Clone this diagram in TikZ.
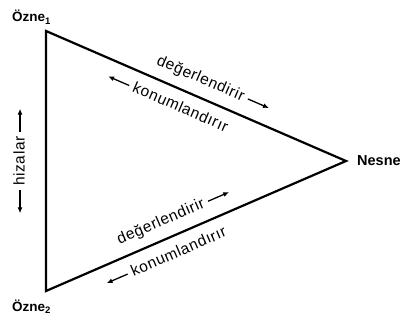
\documentclass[tikz,border=0pt]{standalone}
\usepackage{fontspec}
\setmainfont{Liberation Sans}
\newfontfamily\edgefont[LetterSpace=4]{Liberation Sans}
\usetikzlibrary{arrows.meta}
\tikzset{arw/.style={-{Latex[length=6pt,width=5pt]},line width=1.3pt}}
\newcommand{\rarr}{\tikz[baseline=-0.55ex]\draw[arw] (0pt,0pt) -- (23pt,0pt);}
\newcommand{\larr}{\tikz[baseline=-0.55ex]\draw[arw] (23pt,0pt) -- (0pt,0pt);}

\begin{document}
\begin{tikzpicture}[x=1pt,y=-1pt,
  side/.style={line width=2.2pt,line join=miter},
  who/.style={font=\fontsize{13.5}{15}\selectfont\bfseries,inner sep=0pt,anchor=base west},
  lbl/.style={font=\fontsize{15.5}{18}\selectfont\edgefont,inner sep=0pt,sloped}]
\useasboundingbox (0,0) rectangle (406,320);
\coordinate (c1) at (46,31);
\coordinate (c2) at (46,291);
\coordinate (cn) at (346,161);
\node[who] (ozne1) at (12,22) {Özne$_{\mathbf 1}$};
\node[who] (ozne2) at (12,311) {Özne$_{\mathbf 2}$};
\node[who,font=\fontsize{14.5}{16}\selectfont\bfseries] (nesne) at (357,166) {Nesne};
\draw[side] (c1) -- (cn) -- (c2) -- cycle;
% labels along the sides
\path (c1) -- (cn)
  node[lbl,pos=0.535,above=10pt] (d1) {değerlendirir\hspace{4pt}\rarr}
  node[lbl,pos=0.427,below=10pt] (k1) {\larr\hspace{4pt}konumlandırır};
\path (c2) -- (cn)
  node[lbl,pos=0.45,above=10pt] (d2) {değerlendirir\hspace{4pt}\rarr}
  node[lbl,pos=0.377,below=10pt] (k2) {\larr\hspace{4pt}konumlandırır};
\node[lbl,rotate=90,sloped=false] (hiz) at (19,161) {\larr\hspace{4pt}hizalar\hspace{4pt}\rarr};
\end{tikzpicture}
\end{document}
